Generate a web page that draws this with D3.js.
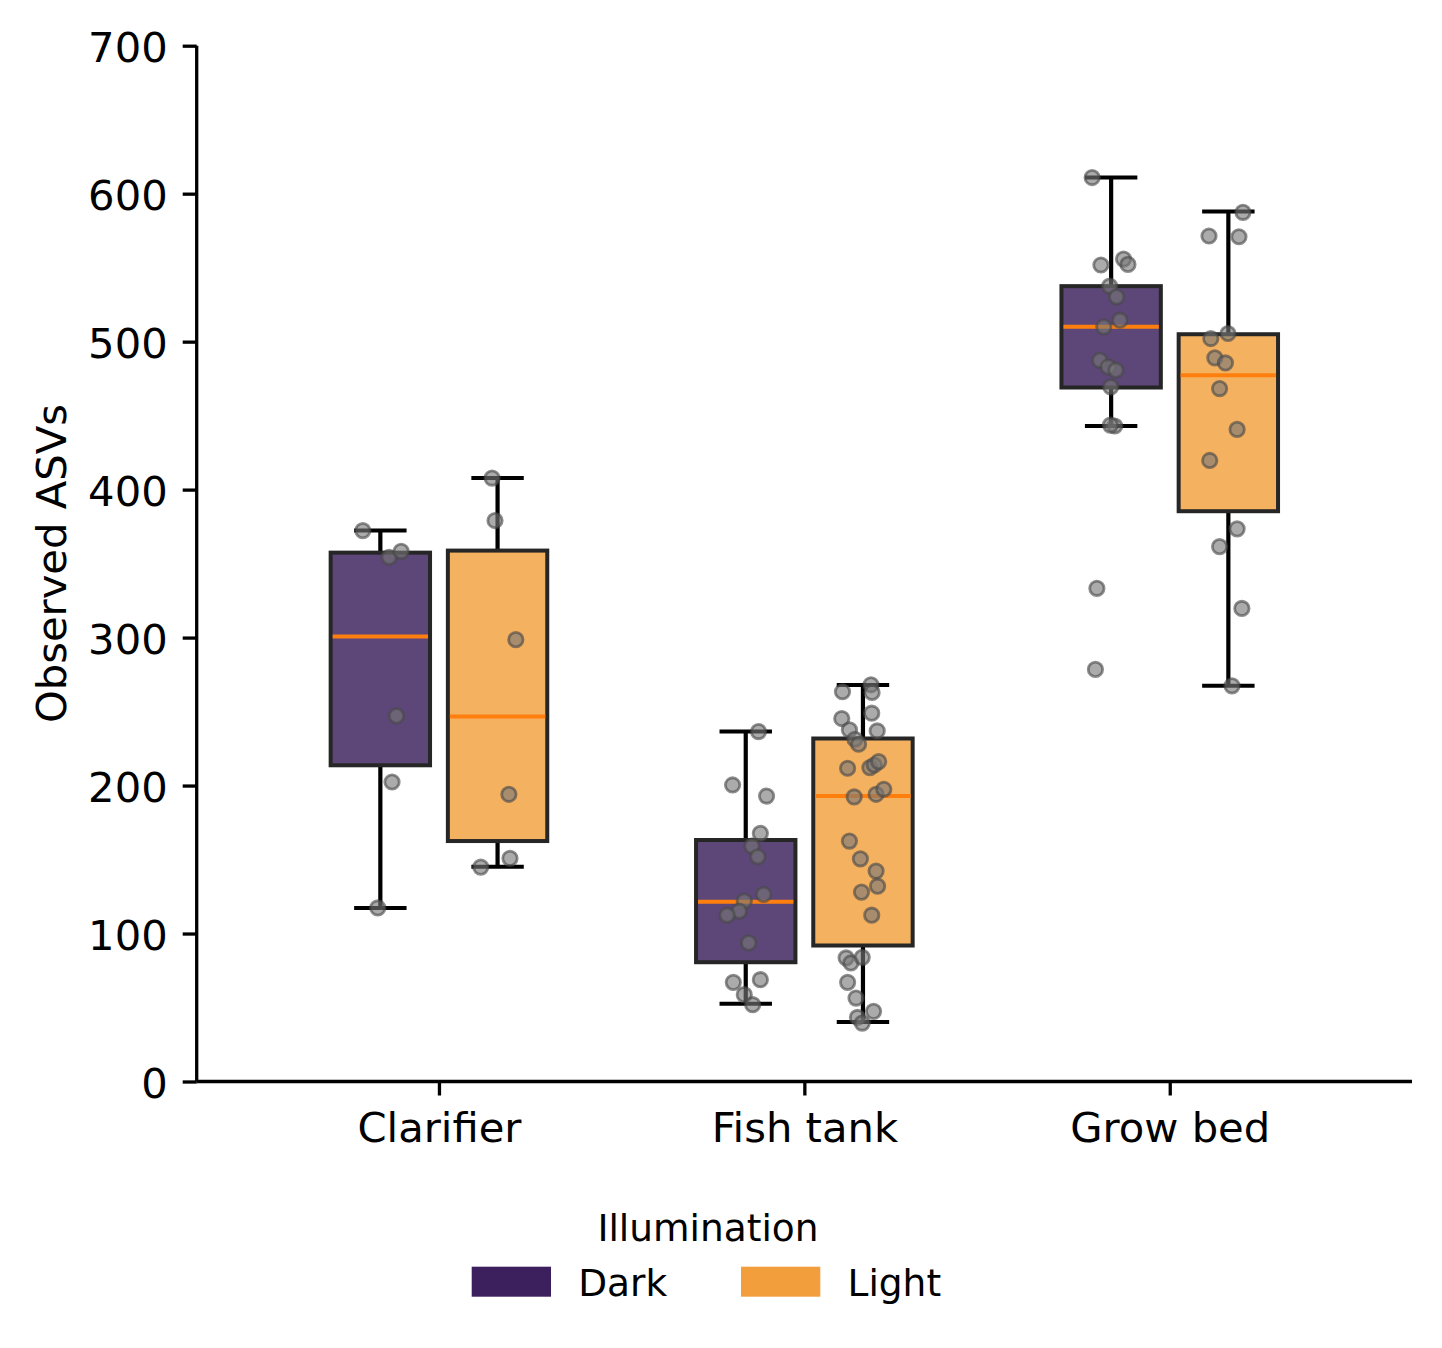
<!DOCTYPE html>
<html>
<head>
<meta charset="utf-8">
<script src="https://cdn.jsdelivr.net/npm/d3@7"></script>
<style>
  body { margin: 0; background: #fff; }
  svg { display: block; font-family: "DejaVu Sans", sans-serif; }
</style>
</head>
<body>
<svg id="chart" width="1442" height="1348"></svg>
<script>
// categories and hue groups
const categories = ["Clarifier", "Fish tank", "Grow bed"];
const groups = ["Dark", "Light"];
const yTicks = [0, 100, 200, 300, 400, 500, 600, 700];

// box stats per category: [whisker low, q1, median, q3, whisker high]
const darkBox = [
  [117.3, 213.7, 300.8, 357.4, 372.3],
  [52.6, 80.6, 121.4, 163.2, 236.5],
  [443.0, 469.0, 510.0, 537.5, 610.9]
];
const lightBox = [
  [145.1, 162.5, 246.6, 358.8, 407.8],
  [40.2, 91.9, 192.9, 231.8, 267.9],
  [267.4, 385.4, 477.3, 505.0, 587.9]
];

// observed ASVs per sample, and strip jitter (in category units)
const darkPoints = [
  [372.3, 354.3, 358.3, 247.1, 202.4, 117.3],
  [236.5, 200.4, 192.9, 167.7, 159.1, 151.9, 126.4, 121.9, 115.1, 112.4, 93.7, 67.0, 68.8, 58.7, 51.9],
  [610.9, 551.8, 555.8, 552.2, 537.5, 530.3, 514.5, 510.0, 487.4, 482.9, 480.7, 469.4, 443.0, 443.6, 333.3, 278.5]
];
const darkJitter = [
  [-0.048, 0.024, 0.057, 0.044, 0.032, -0.007],
  [0.035, -0.036, 0.057, 0.040, 0.017, 0.033, 0.049, -0.004, -0.018, -0.051, 0.008, -0.034, 0.040, -0.004, 0.019],
  [-0.052, -0.028, 0.034, 0.046, -0.004, 0.015, 0.024, -0.020, -0.031, -0.008, 0.013, -0.001, 0.010, -0.002, -0.039, -0.043]
];
const lightPoints = [
  [407.8, 379.1, 298.6, 194.1, 150.8, 144.9],
  [268.1, 262.9, 263.4, 248.9, 245.3, 237.6, 236.9, 231.3, 227.9, 211.7, 212.1, 213.9, 216.2, 192.3, 194.1,
   197.5, 162.5, 150.5, 142.2, 132.0, 128.0, 112.4, 83.5, 80.1, 83.9, 67.0, 56.4, 47.4, 43.3, 39.5],
  [587.4, 571.4, 570.9, 505.5, 502.1, 489.0, 485.6, 468.3, 440.7, 419.7, 373.5, 361.5, 319.7, 267.4]
];
const lightJitter = [
  [-0.015, -0.007, 0.050, 0.031, 0.034, -0.046],
  [0.022, 0.025, -0.056, 0.024, -0.058, -0.037, 0.039, -0.022, -0.012, -0.042, 0.019, 0.031, 0.043, -0.024, 0.036,
   0.057, -0.037, -0.007, 0.036, 0.040, -0.004, 0.024, -0.046, -0.033, -0.002, -0.042, -0.019, 0.029, -0.015, -0.002],
  [0.040, -0.053, 0.029, -0.001, -0.048, -0.037, -0.008, -0.024, 0.024, -0.051, 0.024, -0.024, 0.037, 0.010]
];

const legendColor = { Dark: "#3c1f5d", Light: "#f39e3c" };
const boxColor = { Dark: "#5d4778", Light: "#f4b160" };

const svg = d3.select("#chart");

const x = d3.scalePoint().domain(categories).range([196.7, 1412]).padding(0.663);
const y = d3.scaleLinear().domain([0, 700]).range([1081.5, 45.7]);
const step = x.step();
const dodge = 0.1604 * step;
const boxW = 0.272 * step;
const capW = 0.1435 * step;

const series = [
  { name: "Dark", box: darkBox, pts: darkPoints, jit: darkJitter, off: -dodge },
  { name: "Light", box: lightBox, pts: lightPoints, jit: lightJitter, off: dodge }
];

// boxes
series.forEach(s => {
  const g = svg.append("g");
  categories.forEach((c, i) => {
    const [lo, q1, med, q3, hi] = s.box[i];
    const cx = x(c) + s.off;
    g.append("line").attr("x1", cx).attr("x2", cx).attr("y1", y(q3)).attr("y2", y(hi))
      .attr("stroke", "#000").attr("stroke-width", 4.2);
    g.append("line").attr("x1", cx).attr("x2", cx).attr("y1", y(q1)).attr("y2", y(lo))
      .attr("stroke", "#000").attr("stroke-width", 4.2);
    [lo, hi].forEach(v => {
      g.append("line").attr("x1", cx - capW / 2).attr("x2", cx + capW / 2)
        .attr("y1", y(v)).attr("y2", y(v))
        .attr("stroke", "#000").attr("stroke-width", 4);
    });
    g.append("rect").attr("x", cx - boxW / 2).attr("width", boxW)
      .attr("y", y(q3)).attr("height", y(q1) - y(q3))
      .attr("fill", boxColor[s.name]).attr("stroke", "#262626").attr("stroke-width", 4);
    g.append("line").attr("x1", cx - boxW / 2 + 2).attr("x2", cx + boxW / 2 - 2)
      .attr("y1", y(med)).attr("y2", y(med))
      .attr("stroke", "#ff7f0e").attr("stroke-width", 4);
  });
});

// strip points
series.forEach(s => {
  categories.forEach((c, i) => {
    svg.append("g").selectAll("circle")
      .data(s.pts[i].map((v, k) => ({ v, j: s.jit[i][k] })))
      .join("circle")
      .attr("cx", d => x(c) + s.off + d.j * step)
      .attr("cy", d => y(d.v))
      .attr("r", 7.2)
      .attr("fill", "#777").attr("fill-opacity", 0.62)
      .attr("stroke", "#484848").attr("stroke-opacity", 0.62)
      .attr("stroke-width", 2.8);
  });
});

// axes
const yAxis = svg.append("g").attr("transform", "translate(196.7,0)")
  .call(d3.axisLeft(y).tickValues(yTicks).tickSize(14).tickSizeOuter(0).tickPadding(15));
const xAxis = svg.append("g").attr("transform", "translate(0,1081.5)")
  .call(d3.axisBottom(x).tickSize(14).tickSizeOuter(0));

[yAxis, xAxis].forEach(a => {
  a.select(".domain").attr("stroke", "#000").attr("stroke-width", 3.3);
  a.selectAll(".tick line").attr("stroke", "#000").attr("stroke-width", 3.3);
  a.selectAll(".tick text").attr("fill", "#000").style("font-size", "41.7px")
    .style("font-family", "DejaVu Sans");
});
yAxis.selectAll(".tick text").attr("dy", "0.38em");
xAxis.selectAll(".tick text").attr("y", 60.5).attr("dy", 0);
xAxis.select(".domain").attr("d", "M196.7,0H1412");
yAxis.select(".domain").attr("d", `M0,${y(0)}V${y(700)}`);

svg.append("text")
  .attr("transform", `translate(66,${(y(0) + y(700)) / 2}) rotate(-90)`)
  .attr("text-anchor", "middle")
  .style("font-size", "41.7px")
  .text("Observed ASVs");

// legend
const legend = svg.append("g");
legend.append("text").attr("x", 708).attr("y", 1241).attr("text-anchor", "middle")
  .style("font-size", "37.5px").text("Illumination");
const legX = [471.7, 741];
groups.forEach((gname, i) => {
  legend.append("rect").attr("x", legX[i]).attr("y", 1266.7).attr("width", 79.3).attr("height", 30)
    .attr("fill", legendColor[gname]);
  legend.append("text").attr("x", legX[i] + 106.5).attr("y", 1296)
    .style("font-size", "37.5px").text(gname);
});
</script>
</body>
</html>
